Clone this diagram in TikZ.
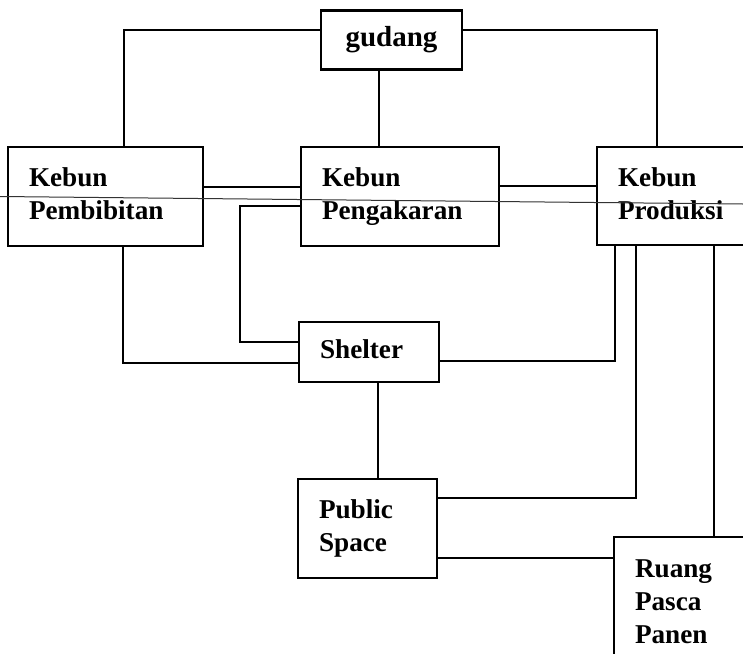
\documentclass[tikz,border=0pt]{standalone}
\usepackage{fontspec}
\setmainfont{Liberation Serif}

\begin{document}
\begin{tikzpicture}[
    x=0.5pt, y=-0.5pt, % one unit = one pixel of the sketch
    box/.style={
      rectangle, draw, line width=1.1pt, align=left,
      inner xsep=10.5pt, inner ysep=0pt,
      execute at begin node=\strut, execute at end node=\strut,
      font=\fontsize{13.6}{16.5}\selectfont\bfseries
    },
    link/.style={line width=1.1pt},
  ]
  \clip (0,0) rectangle (743,653);

  % Top
  \node[box, align=center, inner xsep=0pt, minimum width=70.5pt, minimum height=29.5pt,
        font=\fontsize{14.5}{16.5}\selectfont\bfseries] (gudang) at (391.5,40) {gudang};

  % Garden row
  \node[box, text width=76.5pt, minimum height=49.5pt] (pemb) at (105.5,196.5) {Kebun\\Pembibitan};
  \node[box, text width=78pt, minimum height=49.5pt]   (peng) at (400,196.5)   {Kebun\\Pengakaran};
  \node[box, text width=79pt, minimum height=49pt]     (prod) at (697,196)     {Kebun\\Produksi};

  % Middle and lower rows
  \node[box, text width=49pt, minimum height=30pt]     (shelter) at (369,352)     {Shelter};
  \node[box, text width=48.5pt, minimum height=49.5pt] (public)  at (367.5,528.5) {Public\\Space};
  \node[box, text width=79pt, minimum height=67pt]     (ruang)   at (714,604)     {Ruang\\Pasca\\Panen};

  % gudang to the three gardens
  \draw[link] (gudang.west |- 0,30) -| (pemb.north -| 124,0);
  \draw[link] (gudang.east |- 0,30) -| (prod.north -| 657,0);
  \draw[link] (gudang.south -| 379,0) -- (peng.north -| 379,0);

  % along the garden row
  \draw[link] (pemb.east |- 0,187) -- (peng.west |- 0,187);
  \draw[link] (peng.east |- 0,186) -- (prod.west |- 0,186);

  % gardens down to the shelter
  \draw[link] (peng.west |- 0,206) -- (240,206) |- (shelter.west |- 0,342);
  \draw[link] (pemb.south -| 123,0) |- (shelter.west |- 0,363);
  \draw[link] (shelter.east |- 0,361) -| (prod.south -| 615,0);

  % shelter, public space and post-harvest room
  \draw[link] (shelter.south -| 378,0) -- (public.north -| 378,0);
  \draw[link] (public.east |- 0,498) -| (prod.south -| 636,0);
  \draw[link] (public.east |- 0,558) -- (ruang.west |- 0,558);
  \draw[link] (prod.south -| 714,0) -- (ruang.north -| 714,0);

  % thin scan line across the sheet
  \draw[line width=0.5pt, black!80] (0,196.5) -- (743,204);
\end{tikzpicture}
\end{document}
